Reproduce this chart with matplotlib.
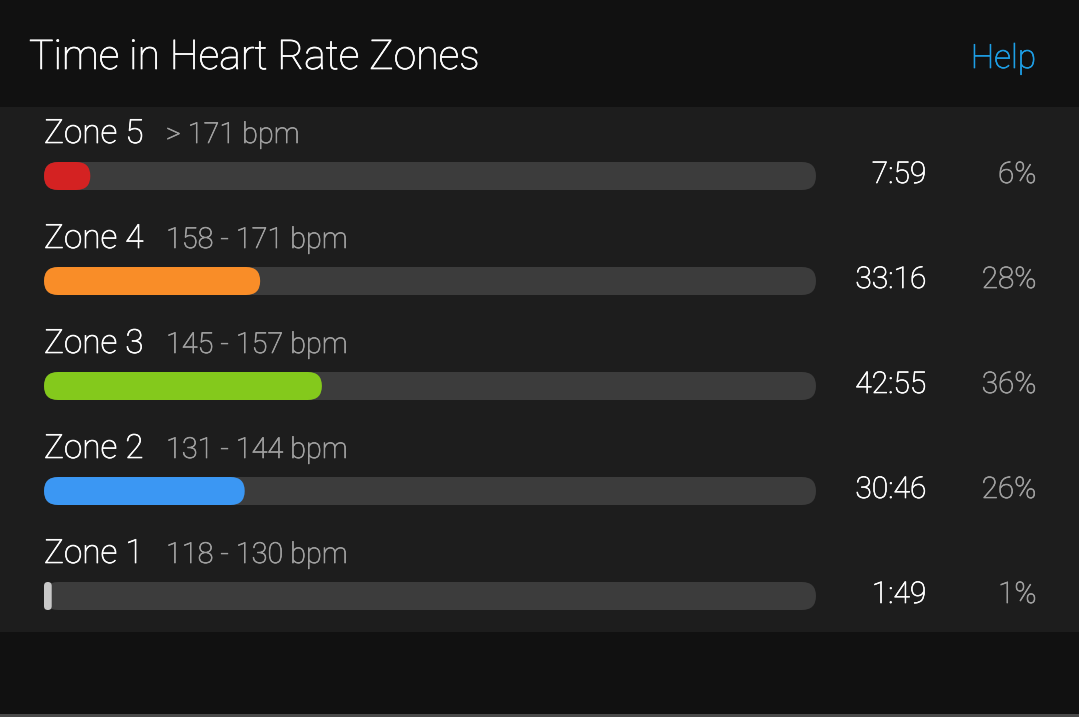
import matplotlib
matplotlib.use("Agg")
import matplotlib.pyplot as plt
import matplotlib.patheffects as pe
from matplotlib.patches import Rectangle, FancyBboxPatch

# ---- data ----
zones = ["Zone 5", "Zone 4", "Zone 3", "Zone 2", "Zone 1"]
ranges = ["> 171 bpm", "158 - 171 bpm", "145 - 157 bpm", "131 - 144 bpm", "118 - 130 bpm"]
times = ["7:59", "33:16", "42:55", "30:46", "1:49"]
percents = [6, 28, 36, 26, 1]
colors = ["#d42222", "#f98d28", "#84c91c", "#3b97f3", "#c8c8c8"]
title = "Time in Heart Rate Zones"
help_text = "Help"

W, H = 1079, 717
DPI = 100
FONT = ["Roboto", "DejaVu Sans"]
WEIGHT = "light"

fig = plt.figure(figsize=(W / DPI, H / DPI), dpi=DPI, facecolor="#111111")

def fx(px):
    return px / W

def fy(py):
    return 1 - py / H

def txt(x, y, s, color, size, ha="left"):
    return fig.text(fx(x), fy(y), s, color=color, fontsize=size, family=FONT,
                    fontweight=WEIGHT, ha=ha, va="baseline",
                    path_effects=[pe.withStroke(linewidth=0.5, foreground=color)])

# background panels (figure-level decoration)
fig.patches.append(Rectangle((0, fy(632)), 1, fy(107) - fy(632), transform=fig.transFigure,
                             facecolor="#1d1d1d", edgecolor="none", zorder=0))
fig.patches.append(Rectangle((0, 0), 1, fy(714), transform=fig.transFigure,
                             facecolor="#4a4a4a", edgecolor="none", zorder=0))

# title and help
txt(29, 69, title, "#ffffff", 29.5)
txt(1036, 68, help_text, "#1e9fe6", 24, ha="right")

# bar axes
left_px, right_px = 44, 816
top_px, bot_px = 123.5, 648.5
ax = fig.add_axes([fx(left_px), fy(bot_px), fx(right_px - left_px), fy(top_px) - fy(bot_px)])
ax.set_xlim(0, 100)
ax.set_ylim(len(zones) - 0.5, -0.5)
ax.axis("off")
ax.patch.set_alpha(0)

ypos = list(range(len(zones)))
bar_h = 28 / 105
track = ax.barh(ypos, [100] * len(zones), height=bar_h, left=0, color="#3c3c3c")
fills = ax.barh(ypos, percents, height=bar_h, left=0, color=colors)

# replace rectangles with rounded pills in display coordinates
fig.canvas.draw()
for cont, z in ((track, 1), (fills, 2)):
    for rect in cont.patches:
        x0, y0 = rect.get_x(), rect.get_y()
        x1, y1 = x0 + rect.get_width(), y0 + rect.get_height()
        (dx0, dy0), (dx1, dy1) = ax.transData.transform([(x0, y0), (x1, y1)])
        dx0, dx1 = min(dx0, dx1), max(dx0, dx1)
        dy0, dy1 = min(dy0, dy1), max(dy0, dy1)
        w, h = dx1 - dx0, dy1 - dy0
        r = min(w, h) / 2
        pill = FancyBboxPatch((dx0, dy0), w, h, boxstyle=f"round,pad=0,rounding_size={r}",
                              transform=None, facecolor=rect.get_facecolor(),
                              edgecolor="none", zorder=z)
        fig.patches.append(pill)
        rect.set_visible(False)

# text per zone
for i, (zn, rg, tm, pc) in enumerate(zip(zones, ranges, times, percents)):
    cy = 176 + 105 * i
    txt(44, cy - 33, zn, "#ffffff", 24)
    txt(166, cy - 33, rg, "#a0a0a0", 20.8)
    txt(926.5, cy + 7, tm, "#ffffff", 21.6, ha="right")
    txt(1036.5, cy + 7, f"{pc}%", "#a0a0a0", 21.4, ha="right")

fig.savefig("out.png", dpi=DPI, facecolor=fig.get_facecolor())
